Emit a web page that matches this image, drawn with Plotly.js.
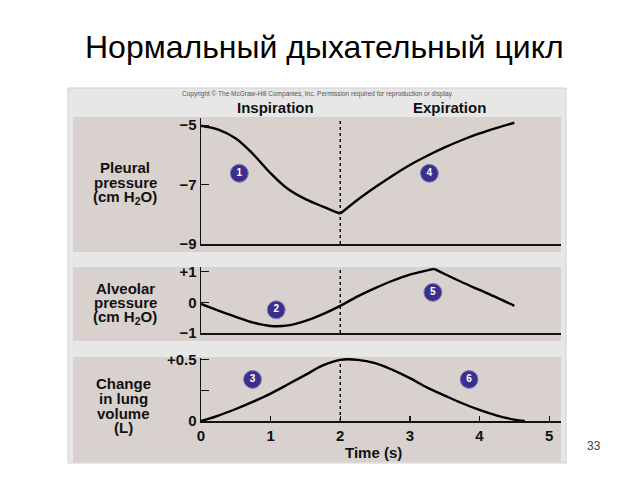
<!DOCTYPE html>
<html>
<head>
<meta charset="utf-8">
<script src="https://cdn.plot.ly/plotly-3.0.1.min.js"></script>
<style>html,body{margin:0;padding:0;background:#fff;}#chart{width:640px;height:480px;}</style>
</head>
<body>
<div id="chart"></div>
<script>
// ---- data ----
const pleuralInspT = [0, 0.25, 0.5, 0.75, 1.0, 1.25, 1.5, 1.75, 2.0];
const pleuralInspP = [-5.02, -5.15, -5.45, -5.98, -6.62, -7.15, -7.49, -7.74, -7.98];
const pleuralExpT = [2.0, 2.25, 2.5, 2.75, 3.0, 3.25, 3.5, 3.75, 4.0, 4.25, 4.5];
const pleuralExpP = [-7.98, -7.51, -7.09, -6.70, -6.34, -6.03, -5.75, -5.50, -5.28, -5.09, -4.92];

const alvRiseT = [0, 0.25, 0.5, 0.75, 1.0, 1.25, 1.5, 1.75, 2.0, 2.25, 2.5, 2.75, 3.0, 3.25, 3.35];
const alvRiseP = [-0.05, -0.27, -0.47, -0.66, -0.77, -0.75, -0.60, -0.38, -0.11, 0.20, 0.47, 0.71, 0.91, 1.05, 1.1];
const alvFallT = [3.35, 3.5, 3.75, 4.0, 4.25, 4.5];
const alvFallP = [1.1, 0.93, 0.66, 0.41, 0.16, -0.11];

const volT = [0, 0.25, 0.5, 0.75, 1.0, 1.25, 1.5, 1.75, 2.0, 2.25, 2.5, 2.75, 3.0, 3.25, 3.5, 3.75, 4.0, 4.25, 4.5, 4.65];
const volV = [0, 0.044, 0.098, 0.158, 0.224, 0.30, 0.377, 0.454, 0.5, 0.5, 0.473, 0.418, 0.35, 0.273, 0.208, 0.145, 0.09, 0.044, 0.011, 0.0];

const stepLabels = ['1', '4', '2', '5', '3', '6'];
const stepT = [0.55, 3.28, 1.08, 3.33, 0.74, 3.85];
const stepY = [-6.62, -6.62, -0.24, 0.33, 0.34, 0.34];
const stepPanel = [1, 1, 2, 2, 3, 3];

const boundaryT = 2;

const xTicks = [0, 1, 2, 3, 4, 5];
const pleuralTicks = [-9, -7, -5];
const pleuralTickText = ['\u22129', '\u22127', '\u22125'];
const alvTicks = [-1, 0, 1];
const alvTickText = ['\u22121', '0', '+1'];
const volTicks = [0, 0.5];
const volTickText = ['0', '+0.5'];
const volMinorTicks = [0.25];

const titleText = 'Нормальный дыхательный цикл';
const pageNumber = '33';

// ---- layout helpers ----
const W = 640, H = 480;
const px = v => v / W;
const py = v => 1 - v / H;
const FONT = 'Liberation Sans, Arial, Helvetica, sans-serif';
const INK = '#111111';
const xDomain = [px(201), px(561)];
const xRange = [0, 5.17];

function curve(x, y, xa, ya) {
  return {x: x, y: y, xaxis: xa, yaxis: ya, type: 'scatter', mode: 'lines',
    line: {color: '#000', width: 2.4, shape: 'spline', smoothing: 1}, hoverinfo: 'skip', showlegend: false};
}

const traces = [
  curve(pleuralInspT, pleuralInspP, 'x', 'y'),
  curve(pleuralExpT, pleuralExpP, 'x', 'y'),
  curve(alvRiseT, alvRiseP, 'x2', 'y2'),
  curve(alvFallT, alvFallP, 'x2', 'y2'),
  curve(volT, volV, 'x3', 'y3')
];

[1, 2, 3].forEach(p => {
  const idx = stepPanel.map((v, i) => v === p ? i : -1).filter(i => i >= 0);
  traces.push({
    x: idx.map(i => stepT[i]), y: idx.map(i => stepY[i]),
    text: idx.map(i => stepLabels[i]),
    xaxis: p === 1 ? 'x' : 'x' + p, yaxis: p === 1 ? 'y' : 'y' + p,
    type: 'scatter', mode: 'markers+text', textposition: 'middle center',
    marker: {size: 18, color: '#3b2f8c', line: {color: '#8a82c0', width: 1}},
    textfont: {color: '#ffffff', size: 10, family: FONT, weight: 'bold'},
    hoverinfo: 'skip', showlegend: false
  });
});

function xAx(anchor, showLabels) {
  return {domain: xDomain, range: xRange, anchor: anchor, showline: true, linecolor: INK, linewidth: 1.5,
    showgrid: false, zeroline: false, fixedrange: true,
    tickvals: xTicks, ticks: showLabels ? 'inside' : '', ticklen: 5, tickcolor: INK, tickwidth: 1.2,
    showticklabels: showLabels, tickfont: {family: FONT, size: 15, color: INK, weight: 'bold'}};
}
function yAx(domain, range, tv, tt, anchor) {
  return {domain: domain, range: range, anchor: anchor, showline: true, linecolor: INK, linewidth: 1.5,
    showgrid: false, zeroline: false, fixedrange: true,
    tickvals: tv, ticktext: tt, ticks: 'inside', ticklen: 8, tickcolor: INK, tickwidth: 1.2,
    tickfont: {family: FONT, size: 15, color: INK, weight: 'bold'}};
}

const shapes = [
  {type: 'rect', xref: 'paper', yref: 'paper', x0: px(68), x1: px(566), y0: py(463), y1: py(88),
    fillcolor: '#e7e7e7', line: {color: '#d0d0d0', width: 1}, layer: 'below'},
  {type: 'rect', xref: 'paper', yref: 'paper', x0: px(73), x1: px(561), y0: py(252), y1: py(117),
    fillcolor: '#d8d1cd', line: {width: 0}, layer: 'below'},
  {type: 'rect', xref: 'paper', yref: 'paper', x0: px(73), x1: px(561), y0: py(341), y1: py(267),
    fillcolor: '#d8d1cd', line: {width: 0}, layer: 'below'},
  {type: 'rect', xref: 'paper', yref: 'paper', x0: px(73), x1: px(561), y0: py(462), y1: py(357),
    fillcolor: '#d8d1cd', line: {width: 0}, layer: 'below'},
  {type: 'line', xref: 'x', yref: 'y domain', x0: boundaryT, x1: boundaryT, y0: 0, y1: 1,
    line: {color: '#000', width: 1.4, dash: 'dot'}},
  {type: 'line', xref: 'x2', yref: 'y2 domain', x0: boundaryT, x1: boundaryT, y0: 0, y1: 1,
    line: {color: '#000', width: 1.4, dash: 'dot'}},
  {type: 'line', xref: 'x3', yref: 'y3', x0: boundaryT, x1: boundaryT, y0: 0, y1: Math.max(...volV),
    line: {color: '#000', width: 1.4, dash: 'dot'}}
];

function label(text, x, y, size, opts) {
  return Object.assign({text: text, xref: 'paper', yref: 'paper', x: px(x), y: py(y),
    xanchor: 'center', yanchor: 'middle', showarrow: false,
    font: {family: FONT, size: size, color: INK, weight: 'bold'}}, opts || {});
}

const annotations = [
  label(titleText, 324, 47, 32, {font: {family: FONT, size: 32, color: '#000'}}),
  label(pageNumber, 594, 446, 12, {font: {family: FONT, size: 12, color: '#444'}}),
  label('Copyright © The McGraw-Hill Companies, Inc. Permission required for reproduction or display.', 317, 94, 6.5,
    {font: {family: FONT, size: 6.5, color: '#555'}}),
  label('Inspiration', 275, 107, 15),
  label('Expiration', 449, 107, 15),
  label('Pleural', 125, 167, 15),
  label('pressure', 125, 182, 15),
  label('(cm H<sub>2</sub>O)', 125, 197, 15),
  label('Alveolar', 125, 288, 15),
  label('pressure', 125, 302, 15),
  label('(cm H<sub>2</sub>O)', 125, 317, 15),
  label('Change', 123, 383, 15),
  label('in lung', 123, 398, 15),
  label('volume', 123, 413, 15),
  label('(L)', 123, 427, 15),
  label('Time (s)', 373, 452, 15)
];

const y3 = yAx([py(421), py(358)], [0, 0.515], volTicks, volTickText, 'x3');
y3.minor = {tickvals: volMinorTicks, ticks: 'inside', ticklen: 8, tickcolor: INK, tickwidth: 1.2, showgrid: false};

const layout = {
  width: W, height: H, margin: {l: 0, r: 0, t: 0, b: 0},
  paper_bgcolor: '#ffffff', plot_bgcolor: 'rgba(0,0,0,0)', showlegend: false,
  xaxis: xAx('y', false),
  xaxis2: xAx('y2', false),
  xaxis3: xAx('y3', true),
  yaxis: yAx([py(244), py(118)], [-9, -4.76], pleuralTicks, pleuralTickText, 'x'),
  yaxis2: yAx([py(333), py(267)], [-1, 1.16], alvTicks, alvTickText, 'x2'),
  yaxis3: y3,
  shapes: shapes,
  annotations: annotations
};

Plotly.newPlot('chart', traces, layout, {staticPlot: true, displayModeBar: false});
</script>
</body>
</html>
